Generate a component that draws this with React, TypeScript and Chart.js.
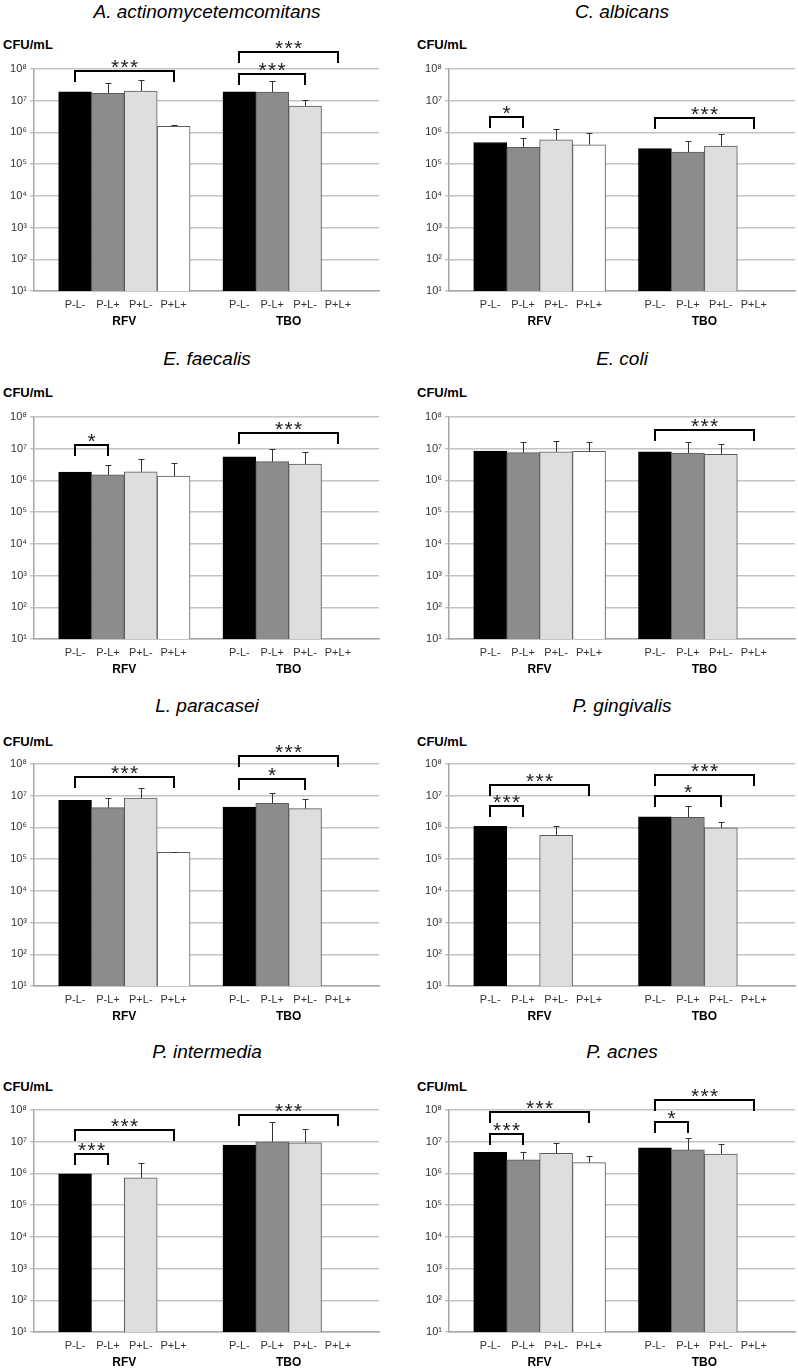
import React, { useEffect, useRef } from 'react';
import { Chart, registerables } from 'chart.js';

Chart.register(...registerables);

// ---------- data ----------
const groups = ['RFV', 'TBO'];
const treatments = ['P-L-', 'P-L+', 'P+L-', 'P+L+'];
const yTickValues = [1e1, 1e2, 1e3, 1e4, 1e5, 1e6, 1e7, 1e8];
const yTickLabels = ['10¹', '10²', '10³', '10⁴', '10⁵', '10⁶', '10⁷', '10⁸'];
const axisLabel = 'CFU/mL';

const speciesNames = [
  'A. actinomycetemcomitans',
  'C. albicans',
  'E. faecalis',
  'E. coli',
  'L. paracasei',
  'P. gingivalis',
  'P. intermedia',
  'P. acnes',
];

// means: RFV (P-L-, P-L+, P+L-, P+L+), then TBO (P-L-, P-L+, P+L-, P+L+)
const aaMeans = [1.92e7, 1.7e7, 2.0e7, 1.55e6, 1.92e7, 1.88e7, 6.8e6, null];
const aaErrTop = [null, 3.5e7, 4.4e7, 1.75e6, null, 4.3e7, 1.05e7, null];
const caMeans = [4.8e5, 3.4e5, 5.8e5, 4.1e5, 3.1e5, 2.4e5, 3.7e5, null];
const caErrTop = [null, 6.7e5, 1.26e6, 9.4e5, null, 5.2e5, 8.9e5, null];
const efMeans = [1.83e6, 1.5e6, 1.88e6, 1.37e6, 5.5e6, 3.9e6, 3.3e6, null];
const efErrTop = [null, 3.05e6, 4.7e6, 3.5e6, null, 9.8e6, 7.7e6, null];
const ecMeans = [8.4e6, 7.5e6, 8.0e6, 8.2e6, 8.0e6, 7.3e6, 6.6e6, null];
const ecErrTop = [null, 1.63e7, 1.7e7, 1.66e7, null, 1.66e7, 1.37e7, null];
const lpMeans = [7.2e6, 4.2e6, 8.4e6, 1.63e5, 4.4e6, 5.8e6, 3.9e6, null];
const lpErrTop = [null, 8.6e6, 1.8e7, 1.71e5, null, 1.18e7, 8.0e6, null];
const pgMeans = [1.09e6, null, 5.65e5, null, 2.16e6, 2.1e6, 9.7e5, null];
const pgErrTop = [null, null, 1.15e6, null, null, 4.6e6, 1.46e6, null];
const piMeans = [9.8e5, null, 7.3e5, null, 7.85e6, 1.0e7, 9.3e6, null];
const piErrTop = [null, null, 2.2e6, null, null, 4.1e7, 2.6e7, null];
const paMeans = [4.65e6, 2.7e6, 4.3e6, 2.2e6, 6.4e6, 5.5e6, 4.1e6, null];
const paErrTop = [null, 4.65e6, 9.4e6, 3.65e6, null, 1.28e7, 8.3e6, null];

type Bracket = { group: number; from: number; to: number; at: number; label: string };

const aaSig: Bracket[] = [
  { group: 0, from: 0, to: 3, at: 8.6e7, label: '***' },
  { group: 1, from: 0, to: 3, at: 3.5e8, label: '***' },
  { group: 1, from: 0, to: 2, at: 7.0e7, label: '***' },
];
const caSig: Bracket[] = [
  { group: 0, from: 0, to: 1, at: 3.1e6, label: '*' },
  { group: 1, from: 0, to: 3, at: 2.8e6, label: '***' },
];
const efSig: Bracket[] = [
  { group: 0, from: 0, to: 1, at: 1.34e7, label: '*' },
  { group: 1, from: 0, to: 3, at: 3.1e7, label: '***' },
];
const ecSig: Bracket[] = [{ group: 1, from: 0, to: 3, at: 4.0e7, label: '***' }];
const lpSig: Bracket[] = [
  { group: 0, from: 0, to: 3, at: 3.8e7, label: '***' },
  { group: 1, from: 0, to: 3, at: 1.84e8, label: '***' },
  { group: 1, from: 0, to: 2, at: 3.4e7, label: '*' },
];
const pgSig: Bracket[] = [
  { group: 0, from: 0, to: 3, at: 2.25e7, label: '***' },
  { group: 0, from: 0, to: 1, at: 4.6e6, label: '***' },
  { group: 1, from: 0, to: 3, at: 4.5e7, label: '***' },
  { group: 1, from: 0, to: 2, at: 9.6e6, label: '*' },
];
const piSig: Bracket[] = [
  { group: 0, from: 0, to: 3, at: 2.3e7, label: '***' },
  { group: 0, from: 0, to: 1, at: 4.2e6, label: '***' },
  { group: 1, from: 0, to: 3, at: 6.8e7, label: '***' },
];
const paSig: Bracket[] = [
  { group: 0, from: 0, to: 3, at: 8.65e7, label: '***' },
  { group: 0, from: 0, to: 1, at: 1.76e7, label: '***' },
  { group: 1, from: 0, to: 3, at: 2.1e8, label: '***' },
  { group: 1, from: 0, to: 1, at: 4.1e7, label: '*' },
];

const panelMeans = [aaMeans, caMeans, efMeans, ecMeans, lpMeans, pgMeans, piMeans, paMeans];
const panelErrs = [aaErrTop, caErrTop, efErrTop, ecErrTop, lpErrTop, pgErrTop, piErrTop, paErrTop];
const panelSig = [aaSig, caSig, efSig, ecSig, lpSig, pgSig, piSig, paSig];

// ---------- styling / layout ----------
const FONT = "'Liberation Sans', Arial, Helvetica, sans-serif";
const barFill = ['#000000', '#8c8c8c', '#dedede', '#ffffff'];
const barBorder = ['#000000', '#5a5a5a', '#5a5a5a', '#5a5a5a'];
const rowPlotTop = [69, 417, 764, 1110];
const rowTitleY = [12, 359, 706, 1052];
const rowUnitY = [45, 393, 742, 1087];
const colCanvasLeft = [0, 415];
const colCanvasWidth = [390, 383];
const colPadRight = [11, 3];
const colTitleX = [207, 622];
const colUnitX = [3, 417];
const PAD_TOP = 40;
const PLOT_H = 222;
const X_H = 22;
const X2_H = 16;
const CANVAS_H = PAD_TOP + PLOT_H + X_H + X2_H;

const slotOf = (k: number) => Math.floor(k / 4) * 5 + (k % 4);
const slotOfBar = (g: number, i: number) => g * 5 + i;

function Panel({ idx }: { idx: number }) {
  const ref = useRef<HTMLCanvasElement | null>(null);
  const row = Math.floor(idx / 2);
  const col = idx % 2;
  useEffect(() => {
    if (!ref.current) return;
    const means = panelMeans[idx];
    const errs = panelErrs[idx];
    const sig = panelSig[idx];
    const barPositions: number[] = [];
    const barLabels: string[] = [];
    groups.forEach((_, g) => treatments.forEach((t, i) => { barPositions.push(slotOfBar(g, i)); barLabels.push(t); }));
    const groupPositions = groups.map((_, g) => (slotOfBar(g, 0) + slotOfBar(g, 3)) / 2);

    const annot = {
      id: 'annot' + idx,
      afterDatasetsDraw(chart: any) {
        const { ctx } = chart;
        const x = chart.scales.x;
        const y = chart.scales.y;
        ctx.save();
        ctx.strokeStyle = '#333333';
        ctx.lineWidth = 1;
        means.forEach((m, k) => {
          const e = errs[k];
          if (m == null || e == null) return;
          const px = Math.round(x.getPixelForValue(slotOf(k))) + 0.5;
          const y0 = y.getPixelForValue(m);
          const y1 = Math.round(y.getPixelForValue(e)) + 0.5;
          ctx.beginPath();
          ctx.moveTo(px, y0);
          ctx.lineTo(px, y1);
          ctx.moveTo(px - 3, y1);
          ctx.lineTo(px + 3, y1);
          ctx.stroke();
        });
        ctx.strokeStyle = '#000000';
        ctx.lineWidth = 2;
        ctx.fillStyle = '#222222';
        ctx.font = `21px ${FONT}`;
        ctx.textAlign = 'center';
        ctx.textBaseline = 'alphabetic';
        const mt = ctx.measureText('*');
        const glyphMid = (mt.actualBoundingBoxAscent - mt.actualBoundingBoxDescent) / 2;
        sig.forEach((b) => {
          const x1 = Math.round(x.getPixelForValue(slotOfBar(b.group, b.from)));
          const x2 = Math.round(x.getPixelForValue(slotOfBar(b.group, b.to)));
          const yy = Math.round(y.getPixelForValue(b.at));
          ctx.beginPath();
          ctx.moveTo(x1, yy + 11);
          ctx.lineTo(x1, yy);
          ctx.lineTo(x2, yy);
          ctx.lineTo(x2, yy + 11);
          ctx.stroke();
          const cx = (x1 + x2) / 2;
          const n = b.label.length;
          const baseY = yy - 7 + glyphMid;
          for (let s = 0; s < n; s++) {
            ctx.fillText('*', cx + (s - (n - 1) / 2) * 9.5, baseY);
          }
        });
        ctx.restore();
      },
    };

    const chart = new Chart(ref.current, {
      type: 'bar',
      data: {
        datasets: [
          {
            data: means.map((m, k) => ({ x: slotOf(k), y: m })) as any,
            backgroundColor: means.map((_, k) => barFill[k % 4]),
            borderColor: means.map((_, k) => barBorder[k % 4]),
            borderWidth: 1,
            barPercentage: 1,
            categoryPercentage: 1,
          },
        ],
      },
      options: {
        animation: false,
        responsive: false,
        events: [],
        layout: { padding: { top: PAD_TOP, right: colPadRight[col], left: 0, bottom: 0 } },
        plugins: { legend: { display: false }, tooltip: { enabled: false }, title: { display: false } },
        scales: {
          x: {
            type: 'linear',
            position: 'bottom',
            weight: 0,
            min: -1.25,
            max: 9.25,
            offset: false,
            grid: { display: false, drawTicks: false, offset: false },
            border: { display: true, color: '#a8a8a8', width: 1.5 },
            afterBuildTicks: (s: any) => { s.ticks = barPositions.map((v) => ({ value: v })); },
            afterFit: (s: any) => { s.height = X_H; },
            ticks: {
              autoSkip: false,
              maxRotation: 0,
              padding: 7,
              color: '#333333',
              font: { family: FONT, size: 11 },
              callback: (_v: any, i: number) => barLabels[i],
            },
          },
          x2: {
            type: 'linear',
            position: 'bottom',
            weight: 1,
            min: -1.25,
            max: 9.25,
            offset: false,
            grid: { display: false, drawTicks: false, offset: false },
            border: { display: false },
            afterBuildTicks: (s: any) => { s.ticks = groupPositions.map((v) => ({ value: v })); },
            afterFit: (s: any) => { s.height = X2_H; },
            ticks: {
              autoSkip: false,
              maxRotation: 0,
              padding: 1,
              color: '#000000',
              font: { family: FONT, size: 12, weight: 'bold' },
              callback: (_v: any, i: number) => groups[i],
            },
          },
          y: {
            type: 'logarithmic',
            min: 10,
            max: 1e8,
            grid: { color: '#c4c4c4', lineWidth: 1.5, tickLength: 4, drawTicks: true },
            border: { display: true, color: '#a8a8a8', width: 1.5 },
            afterBuildTicks: (s: any) => { s.ticks = yTickValues.map((v) => ({ value: v })); },
            afterFit: (s: any) => { s.width = 34; },
            ticks: {
              padding: 3,
              color: '#333333',
              font: { family: FONT, size: 11 },
              callback: (_v: any, i: number) => yTickLabels[i],
            },
          },
        } as any,
      },
      plugins: [annot],
    });
    return () => chart.destroy();
  }, [idx]);

  return (
    <>
      <div
        style={{
          position: 'absolute',
          left: colTitleX[col] - 200,
          top: rowTitleY[row] - 11,
          width: 400,
          height: 22,
          lineHeight: '22px',
          textAlign: 'center',
          fontFamily: FONT,
          fontStyle: 'italic',
          fontSize: 19,
          color: '#000',
          whiteSpace: 'nowrap',
        }}
      >
        {speciesNames[idx]}
      </div>
      <div
        style={{
          position: 'absolute',
          left: colUnitX[col],
          top: rowUnitY[row] - 8,
          height: 16,
          lineHeight: '16px',
          fontFamily: FONT,
          fontWeight: 'bold',
          fontSize: 13,
          color: '#000',
          whiteSpace: 'nowrap',
        }}
      >
        {axisLabel}
      </div>
      <canvas
        ref={ref}
        width={colCanvasWidth[col]}
        height={CANVAS_H}
        style={{
          position: 'absolute',
          left: colCanvasLeft[col],
          top: rowPlotTop[row] - PAD_TOP,
          width: colCanvasWidth[col],
          height: CANVAS_H,
        }}
      />
    </>
  );
}

export default function App() {
  return (
    <div style={{ position: 'absolute', left: 0, top: 0, width: 798, height: 1371, background: '#fff', overflow: 'hidden' }}>
      {speciesNames.map((_, i) => (
        <Panel key={i} idx={i} />
      ))}
    </div>
  );
}
